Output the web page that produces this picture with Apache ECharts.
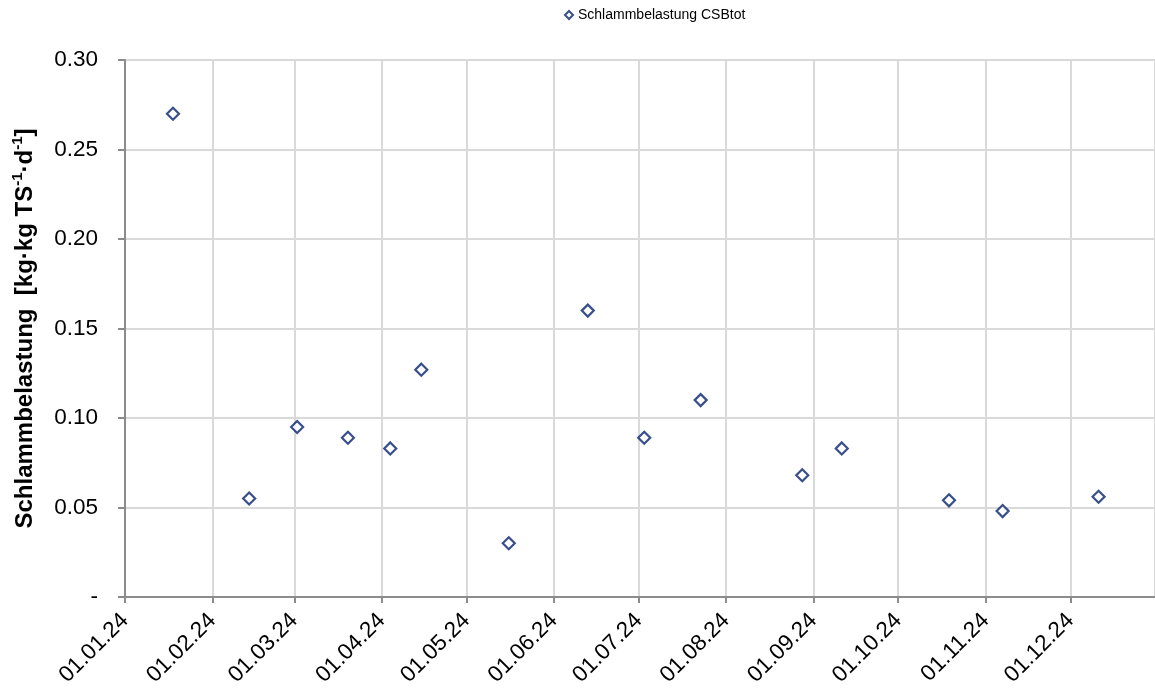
<!DOCTYPE html>
<html>
<head>
<meta charset="utf-8">
<title>Schlammbelastung CSBtot</title>
<script src="https://cdn.jsdelivr.net/npm/echarts@6/dist/echarts.min.js"></script>
<style>
  html, body { margin: 0; padding: 0; background: #fff; }
  #chart { width: 1155px; height: 695px; }
</style>
</head>
<body>
<div id="chart"></div>
<script>
// Sampling dates and sludge loading values (kg CSB per kg TS per day)
const sampleDates = [
  '2024-01-18', '2024-02-14', '2024-03-02', '2024-03-20', '2024-04-04',
  '2024-04-15', '2024-05-16', '2024-06-13', '2024-07-03', '2024-07-23',
  '2024-08-28', '2024-09-11', '2024-10-19', '2024-11-07', '2024-12-11'
];
const csbLoad = [
  0.270, 0.055, 0.095, 0.089, 0.083,
  0.127, 0.030, 0.160, 0.089, 0.110,
  0.068, 0.083, 0.054, 0.048, 0.056
];
const seriesName = 'Schlammbelastung CSBtot';
const xStart = '2024-01-01';
const xEnd = '2024-12-31';
const yTicks = [0, 0.05, 0.10, 0.15, 0.20, 0.25, 0.30];

const DAY = 86400000;
const FONT = 'Liberation Sans, Arial, sans-serif';
const points = sampleDates.map((d, i) => [Date.parse(d), csbLoad[i]]);

function pad(n) { return (n < 10 ? '0' : '') + n; }

const chart = echarts.init(document.getElementById('chart'), null, { renderer: 'canvas' });

chart.setOption({
  useUTC: true,
  animation: false,
  backgroundColor: '#ffffff',
  textStyle: { fontFamily: FONT },
  legend: {
    top: 3,
    left: 559,
    itemWidth: 8,
    itemHeight: 8,
    itemGap: 4,
    textStyle: { fontSize: 14, color: '#000', fontFamily: FONT },
    data: [{ name: seriesName, icon: 'diamond' }]
  },
  grid: { left: 125, right: 0, top: 60, bottom: 98, containLabel: false },
  xAxis: {
    type: 'time',
    min: Date.parse(xStart),
    max: Date.parse(xEnd),
    minInterval: 30 * DAY,
    maxInterval: 30 * DAY,
    axisLine: { show: true, lineStyle: { color: '#8c8c8c', width: 2 } },
    axisTick: { show: true, length: 6, lineStyle: { color: '#8c8c8c', width: 2 } },
    splitLine: { show: true, lineStyle: { color: '#d9d9d9', width: 2 } },
    axisLabel: {
      rotate: 45,
      margin: 20,
      fontSize: 22.5,
      color: '#000',
      fontFamily: FONT,
      formatter: function (v) {
        const d = new Date(v);
        if (d.getUTCDate() !== 1) return '';
        return pad(d.getUTCDate()) + '.' + pad(d.getUTCMonth() + 1) + '.' + String(d.getUTCFullYear()).slice(2);
      }
    }
  },
  yAxis: {
    type: 'value',
    min: yTicks[0],
    max: yTicks[yTicks.length - 1],
    interval: 0.05,
    name: '{m|Schlammbelastung  [kg·kg TS}{s|-1}{m|·d}{s|-1}{m|]}',
    nameLocation: 'middle',
    nameRotate: 90,
    nameGap: 88,
    nameTextStyle: {
      rich: {
        m: { fontSize: 24, fontWeight: 'bold', color: '#000', lineHeight: 27, verticalAlign: 'bottom', fontFamily: FONT },
        s: { fontSize: 15, fontWeight: 'bold', color: '#000', lineHeight: 27, verticalAlign: 'top', fontFamily: FONT }
      }
    },
    axisLine: { show: true, lineStyle: { color: '#8c8c8c', width: 2 } },
    axisTick: { show: true, length: 7, lineStyle: { color: '#8c8c8c', width: 2 } },
    splitLine: { show: true, lineStyle: { color: '#d9d9d9', width: 2 } },
    axisLabel: {
      margin: 27,
      fontSize: 22.5,
      color: '#000',
      fontFamily: FONT,
      formatter: function (v) { return v === 0 ? '-' : v.toFixed(2); }
    }
  },
  series: [{
    name: seriesName,
    type: 'scatter',
    symbol: 'diamond',
    symbolSize: 12,
    itemStyle: { color: '#ffffff', borderColor: '#06236f', borderWidth: 2.2 },
    data: points
  }]
});
</script>
</body>
</html>
